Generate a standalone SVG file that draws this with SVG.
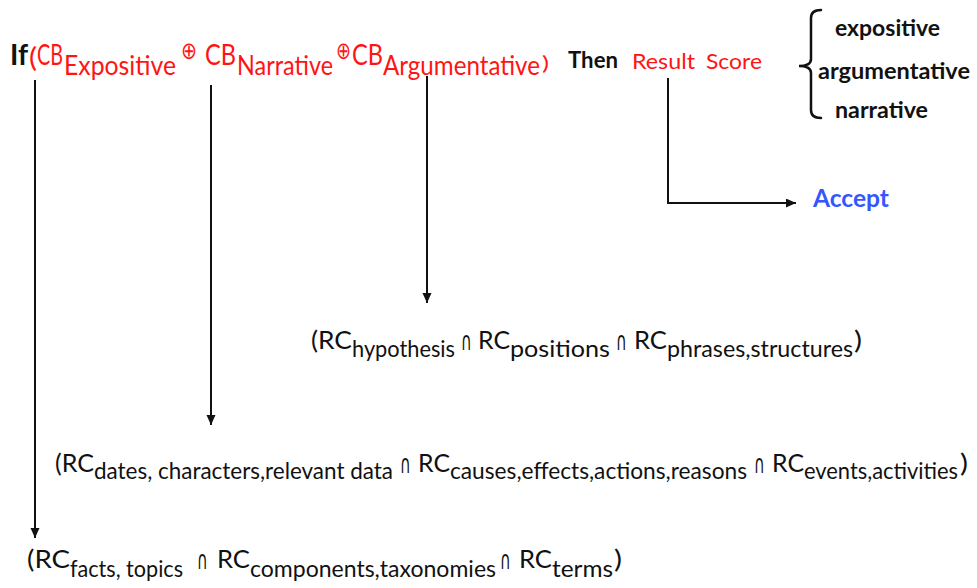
<svg xmlns="http://www.w3.org/2000/svg" width="977" height="588" viewBox="0 0 977 588">
  <style>
    text { font-family: Lato, "Open Sans", "Liberation Sans", sans-serif; }
    .red { fill: #ff1414; }
    .blk { fill: #111; }
    .bold { font-weight: bold; }
    text.sym { font-family: "DejaVu Sans", "Noto Sans", sans-serif; }
    .line { stroke: #111; stroke-width: 2; fill: none; }
    .brace { stroke: #111; stroke-width: 2.5; fill: none; stroke-linecap: round; }
  </style>
  <defs>
    <marker id="arrow" markerUnits="userSpaceOnUse" markerWidth="11" markerHeight="10" refX="10" refY="4.5" orient="auto">
      <path d="M0,0 L10,4.5 L0,9 z" fill="#111"/>
    </marker>
  </defs>
  <rect width="977" height="588" fill="#fff"/>

  <!-- rule condition -->
  <g id="condition">
    <text class="blk bold" x="10" y="65" font-size="28" textLength="18" lengthAdjust="spacingAndGlyphs">If</text>
    <text class="red" x="29" y="67" font-size="27" textLength="8" lengthAdjust="spacingAndGlyphs">(</text>
    <text class="red" x="37" y="65" font-size="28" textLength="26" lengthAdjust="spacingAndGlyphs">CB</text>
    <text class="red" x="64" y="75" font-size="27" textLength="112" lengthAdjust="spacingAndGlyphs">Expositive</text>
    <text class="red sym" x="181" y="59" font-size="24" textLength="16" lengthAdjust="spacingAndGlyphs">⊕</text>
    <text class="red" x="205" y="65" font-size="28" textLength="31" lengthAdjust="spacingAndGlyphs">CB</text>
    <text class="red" x="237" y="75" font-size="27" textLength="96" lengthAdjust="spacingAndGlyphs">Narrative</text>
    <text class="red sym" x="336" y="59" font-size="24" textLength="15" lengthAdjust="spacingAndGlyphs">⊕</text>
    <text class="red" x="352" y="65" font-size="28" textLength="31" lengthAdjust="spacingAndGlyphs">CB</text>
    <text class="red" x="383" y="75" font-size="27" textLength="157" lengthAdjust="spacingAndGlyphs">Argumentative</text>
    <text class="red" x="542" y="70" font-size="20" textLength="7" lengthAdjust="spacingAndGlyphs">)</text>
  </g>

  <!-- rule outcome -->
  <g id="result">
    <text class="blk bold" x="568" y="68" font-size="22" textLength="50" lengthAdjust="spacingAndGlyphs">Then</text>
    <text class="red" x="632" y="69" font-size="22" textLength="63" lengthAdjust="spacingAndGlyphs">Result</text>
    <text class="red" x="706" y="69" font-size="22" textLength="56" lengthAdjust="spacingAndGlyphs">Score</text>
  </g>

  <!-- text types -->
  <g id="types">
    <path class="brace" d="M821,10 Q811,10 811,18 V59 Q811,66 799,66 Q811,66 811,73 V110 Q811,118 821,118"/>
    <text class="blk bold" x="835" y="36" font-size="23" textLength="105" lengthAdjust="spacingAndGlyphs">expositive</text>
    <text class="blk bold" x="818" y="79" font-size="23" textLength="152" lengthAdjust="spacingAndGlyphs">argumentative</text>
    <text class="blk bold" x="835" y="118" font-size="23" textLength="93" lengthAdjust="spacingAndGlyphs">narrative</text>
  </g>

  <g id="accept">
    <text class="bold" fill="#3556ff" x="813" y="207" font-size="25" textLength="76" lengthAdjust="spacingAndGlyphs">Accept</text>
  </g>

  <!-- argumentative criteria -->
  <g id="rc-argumentative" class="blk">
    <text x="311" y="349" font-size="25" textLength="41" lengthAdjust="spacingAndGlyphs">(RC</text>
    <text x="352" y="357" font-size="23" textLength="103" lengthAdjust="spacingAndGlyphs">hypothesis</text>
    <text class="sym" x="461" y="350" font-size="26" textLength="11" lengthAdjust="spacingAndGlyphs">∩</text>
    <text x="478" y="349" font-size="25" textLength="32" lengthAdjust="spacingAndGlyphs">RC</text>
    <text x="510" y="357" font-size="23" textLength="100" lengthAdjust="spacingAndGlyphs">positions</text>
    <text class="sym" x="616" y="350" font-size="26" textLength="11" lengthAdjust="spacingAndGlyphs">∩</text>
    <text x="634" y="349" font-size="25" textLength="33" lengthAdjust="spacingAndGlyphs">RC</text>
    <text x="667" y="357" font-size="23" textLength="186" lengthAdjust="spacingAndGlyphs">phrases,structures</text>
    <text x="854" y="349" font-size="25" textLength="8" lengthAdjust="spacingAndGlyphs">)</text>
  </g>

  <!-- narrative criteria -->
  <g id="rc-narrative" class="blk">
    <text x="55" y="472" font-size="25" textLength="39" lengthAdjust="spacingAndGlyphs">(RC</text>
    <text x="94" y="479" font-size="23" textLength="299" lengthAdjust="spacingAndGlyphs">dates, characters,relevant data</text>
    <text class="sym" x="400" y="473" font-size="26" textLength="11" lengthAdjust="spacingAndGlyphs">∩</text>
    <text x="418" y="472" font-size="25" textLength="32" lengthAdjust="spacingAndGlyphs">RC</text>
    <text x="450" y="479" font-size="23" textLength="297" lengthAdjust="spacingAndGlyphs">causes,effects,actions,reasons</text>
    <text class="sym" x="754" y="473" font-size="26" textLength="11" lengthAdjust="spacingAndGlyphs">∩</text>
    <text x="772" y="472" font-size="25" textLength="32" lengthAdjust="spacingAndGlyphs">RC</text>
    <text x="804" y="479" font-size="23" textLength="154" lengthAdjust="spacingAndGlyphs">events,activities</text>
    <text x="960" y="472" font-size="25" textLength="8" lengthAdjust="spacingAndGlyphs">)</text>
  </g>

  <!-- expositive criteria -->
  <g id="rc-expositive" class="blk">
    <text x="27" y="568" font-size="25" textLength="43" lengthAdjust="spacingAndGlyphs">(RC</text>
    <text x="70" y="577" font-size="23" textLength="113" lengthAdjust="spacingAndGlyphs">facts, topics</text>
    <text class="sym" x="197" y="569" font-size="26" textLength="11" lengthAdjust="spacingAndGlyphs">∩</text>
    <text x="217" y="568" font-size="25" textLength="33" lengthAdjust="spacingAndGlyphs">RC</text>
    <text x="250" y="577" font-size="23" textLength="246" lengthAdjust="spacingAndGlyphs">components,taxonomies</text>
    <text class="sym" x="500" y="569" font-size="26" textLength="11" lengthAdjust="spacingAndGlyphs">∩</text>
    <text x="519" y="568" font-size="25" textLength="33" lengthAdjust="spacingAndGlyphs">RC</text>
    <text x="552" y="577" font-size="23" textLength="61" lengthAdjust="spacingAndGlyphs">terms</text>
    <text x="614" y="568" font-size="25" textLength="8" lengthAdjust="spacingAndGlyphs">)</text>
  </g>

  <!-- connectors -->
  <g id="connectors">
    <line class="line" x1="35" y1="80" x2="35" y2="538" marker-end="url(#arrow)"/>
    <line class="line" x1="211" y1="85" x2="211" y2="425" marker-end="url(#arrow)"/>
    <line class="line" x1="427" y1="76" x2="427" y2="303" marker-end="url(#arrow)"/>
    <path class="line" d="M668,78 V203 H796" marker-end="url(#arrow)"/>
  </g>
</svg>
